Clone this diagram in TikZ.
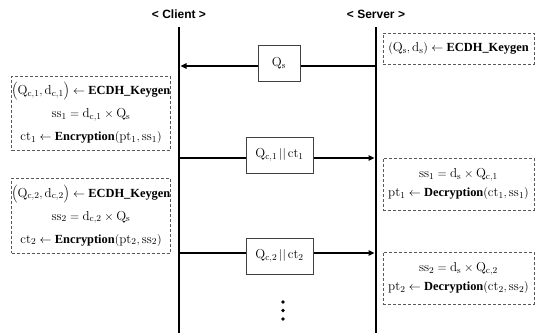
\documentclass[tikz,border=0pt]{standalone}
\usepackage{fontspec}
\newfontfamily\hdrfont{Liberation Sans}
\newfontfamily\kwfont{Liberation Serif}
\newcommand{\kwd}[1]{\mbox{\kwfont\bfseries\fontsize{12.4}{12.4}\selectfont #1}}
\usetikzlibrary{arrows.meta}
\begin{document}
\begin{tikzpicture}[x=1pt,y=-1pt,
  hdr/.style={font=\hdrfont\bfseries\fontsize{12}{14}\selectfont},
  life/.style={line width=2.6pt,black},
  msgline/.style={line width=1.6pt,black},
  tip/.style={-{Triangle[length=6pt,width=5.5pt]}},
  msgbox/.style={draw=black!75,line width=0.8pt,fill=white,inner sep=0pt,
    font=\fontsize{13}{14}\selectfont},
  cbox/.style={draw=black!65,dashed,dash pattern=on 3pt off 2pt,line width=0.8pt,
    inner sep=0pt,minimum width=158pt,align=center,
    font=\fontsize{13}{23}\selectfont},
  sbox/.style={draw=black!65,dashed,dash pattern=on 3pt off 2pt,line width=0.8pt,
    inner sep=0pt,minimum width=151pt,align=center,
    font=\fontsize{13}{19.5}\selectfont},
  dot/.style={circle,fill=black,inner sep=0pt,minimum size=3.6pt}]
\useasboundingbox (0,0) rectangle (542,333);
% headers
\node[hdr] (client) at (179,14) {< Client >};
\node[hdr] (server) at (376,14) {< Server >};
% lifelines
\coordinate (ctop) at (179,27);
\coordinate (cbot) at (179,333);
\coordinate (stop) at (376,27);
\coordinate (sbot) at (376,333);
\draw[life] (ctop) -- (cbot);
\draw[life] (stop) -- (sbot);
% message anchors
\coordinate (sA) at (376,66);
\coordinate (cA) at (180.5,66);
\coordinate (cB) at (179,158);
\coordinate (sB) at (374.5,158);
\coordinate (cC) at (179,253);
\coordinate (sC) at (374.5,253);
\draw[msgline,tip] (sA) -- (cA);
\draw[msgline,tip] (cB) -- (sB);
\draw[msgline,tip] (cC) -- (sC);
% message boxes
\node[msgbox,minimum width=42pt,minimum height=36pt] (m1) at (279,63) {$\mathrm{Q_s}$};
\node[msgbox,minimum width=67pt,minimum height=36pt] (m2) at (279.5,155) {$\mathrm{Q_{c,1}}\,||\,\mathrm{ct_1}$};
\node[msgbox,minimum width=67pt,minimum height=36pt] (m3) at (279.5,256) {$\mathrm{Q_{c,2}}\,||\,\mathrm{ct_2}$};
% server boxes
\node[sbox,minimum height=31pt] (s1) at (458.5,48.5)
  {$\left(\mathrm{Q_s},\mathrm{d_s}\right)\leftarrow\kwd{ECDH\_Keygen}$};
\node[sbox,minimum height=52pt] (s2) at (458.5,184)
  {$\mathrm{ss_1}=\mathrm{d_s}\times\mathrm{Q_{c,1}}$\\
   $\mathrm{pt_1}\leftarrow\kwd{Decryption}(\mathrm{ct_1},\mathrm{ss_1})$};
\node[sbox,minimum height=52pt] (s3) at (458.5,278)
  {$\mathrm{ss_2}=\mathrm{d_s}\times\mathrm{Q_{c,2}}$\\
   $\mathrm{pt_2}\leftarrow\kwd{Decryption}(\mathrm{ct_2},\mathrm{ss_2})$};
% client boxes
\node[cbox,minimum height=74pt] (c1) at (91,113)
  {$\left(\mathrm{Q_{c,1}},\mathrm{d_{c,1}}\right)\leftarrow\kwd{ECDH\_Keygen}$\\
   $\mathrm{ss_1}=\mathrm{d_{c,1}}\times\mathrm{Q_s}$\\
   $\mathrm{ct_1}\leftarrow\kwd{Encryption}(\mathrm{pt_1},\mathrm{ss_1})$};
\node[cbox,minimum height=75pt] (c2) at (91,215.5)
  {$\left(\mathrm{Q_{c,2}},\mathrm{d_{c,2}}\right)\leftarrow\kwd{ECDH\_Keygen}$\\
   $\mathrm{ss_2}=\mathrm{d_{c,2}}\times\mathrm{Q_s}$\\
   $\mathrm{ct_2}\leftarrow\kwd{Encryption}(\mathrm{pt_2},\mathrm{ss_2})$};
% continuation dots
\node[dot] (d1) at (283,302) {};
\node[dot] (d2) at (283,310.5) {};
\node[dot] (d3) at (283,319) {};
\end{tikzpicture}
\end{document}
